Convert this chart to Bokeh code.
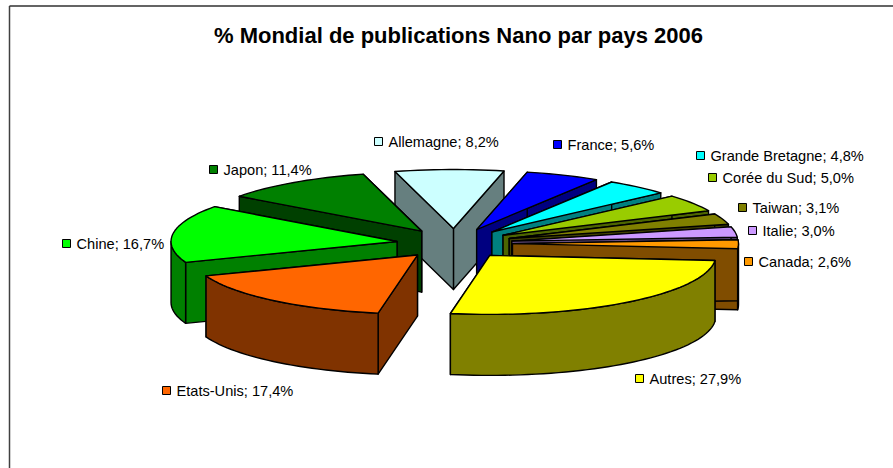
import math
from bokeh.plotting import figure
from bokeh.models import Range1d, ColumnDataSource
from bokeh.core.properties import value
from bokeh.embed import file_html
from bokeh.resources import INLINE

# ---- data ----
title = "% Mondial de publications Nano par pays 2006"
countries = ["Allemagne", "France", "Grande Bretagne", "Corée du Sud", "Taiwan", "Italie",
             "Canada", "Autres", "Etats-Unis", "Chine", "Japon"]
shares = [8.2, 5.6, 4.8, 5.0, 3.1, 3.0, 2.6, 27.9, 17.4, 16.7, 11.4]
shares_txt = ["8,2%", "5,6%", "4,8%", "5,0%", "3,1%", "3,0%", "2,6%", "27,9%", "17,4%", "16,7%", "11,4%"]
top_colors = ["#CCFFFF", "#0000FF", "#00FFFF", "#99CC00", "#808000", "#CC99FF",
              "#FF9900", "#FFFF00", "#FF6600", "#00FF00", "#008000"]
wall_colors = ["#667F7F", "#000080", "#008080", "#4D6600", "#404000", "#664D80",
               "#804D00", "#808000", "#803300", "#008000", "#004000"]
# painter's order, back to front
draw_order = [0, 1, 2, 3, 4, 5, 6, 10, 9, 8, 7]
# left edge of label text and centre y, in page pixels
label_x = [388, 567, 710, 722, 752, 762, 758, 649, 176, 76, 223]
label_y = [141, 144, 155, 177, 207, 230, 261, 378, 390, 243, 169]

# ---- 3-D pie projection, page pixels ----
CX, CY = 454.0, 243.0
A, B = 226.0, 59.0
EX, EY = 58.0, 15.0
DEPTH = 61.0
START = -15.0
total = sum(shares)

W, H = 893, 468
p = figure(width=W, height=H, output_backend="svg", toolbar_location=None,
           x_range=Range1d(0, W), y_range=Range1d(H, 0),
           min_border=0, outline_line_color=None, background_fill_color="white",
           border_fill_color="white")
p.axis.visible = False
p.grid.visible = False

# chart frame (only its top and left edges fall inside the picture)
p.line([9, 9], [5.5, 468], line_color="#404040", line_width=1.5)
p.line([9, 893], [5.5, 5.5], line_color="#303030", line_width=1.5)


def arc_pts(ax, ay, a0, a1, dy=0.0):
    n = max(2, int(abs(a1 - a0) / 2) + 2)
    xs, ys = [], []
    for i in range(n):
        t = math.radians(a0 + (a1 - a0) * i / (n - 1))
        xs.append(ax + A * math.sin(t))
        ys.append(ay - B * math.cos(t) + dy)
    return xs, ys


angles = []
cur = START
for v in shares:
    sweep = 360.0 * v / total
    angles.append((cur, cur + sweep))
    cur += sweep


def draw(xs, ys, color):
    p.patch(xs, ys, fill_color=color, line_color="black", line_width=1.4, line_join="round")


for i in draw_order:
    a0, a1 = angles[i]
    m = math.radians((a0 + a1) / 2)
    ax = CX + EX * math.sin(m)
    ay = CY - EY * math.cos(m)
    # radial walls
    for ang in (a1, a0):
        t = math.radians(ang)
        ex, ey = ax + A * math.sin(t), ay - B * math.cos(t)
        draw([ax, ex, ex, ax], [ay, ey, ey + DEPTH, ay + DEPTH], wall_colors[i])
    # outer wall, front half only
    lo, hi = max(a0, 90.0), min(a1, 270.0)
    if hi > lo:
        xs, ys = arc_pts(ax, ay, lo, hi)
        xb, yb = arc_pts(ax, ay, hi, lo, DEPTH)
        draw(xs + xb, ys + yb, wall_colors[i])
    # top
    xs, ys = arc_pts(ax, ay, a0, a1)
    draw([ax] + xs, [ay] + ys, top_colors[i])

# labels with colour keys
labels = [f"{c}; {s}" for c, s in zip(countries, shares_txt)]
src = ColumnDataSource(dict(x=label_x, y=label_y, t=labels, kx=[v - 10 for v in label_x], c=top_colors))
p.text("x", "y", text="t", source=src, text_font=value("Liberation Sans"), text_font_size="14.6px",
       text_color="black", text_baseline="middle", text_align="left")
p.rect("kx", "y", width=8, height=8, source=src, fill_color="c", line_color="black", line_width=1)

p.text([458], [35], text=[title], text_font=value("Liberation Sans"), text_font_size="22px",
       text_font_style="bold", text_color="black", text_align="center", text_baseline="middle")

open("out.html", "w").write(file_html(p, INLINE))
